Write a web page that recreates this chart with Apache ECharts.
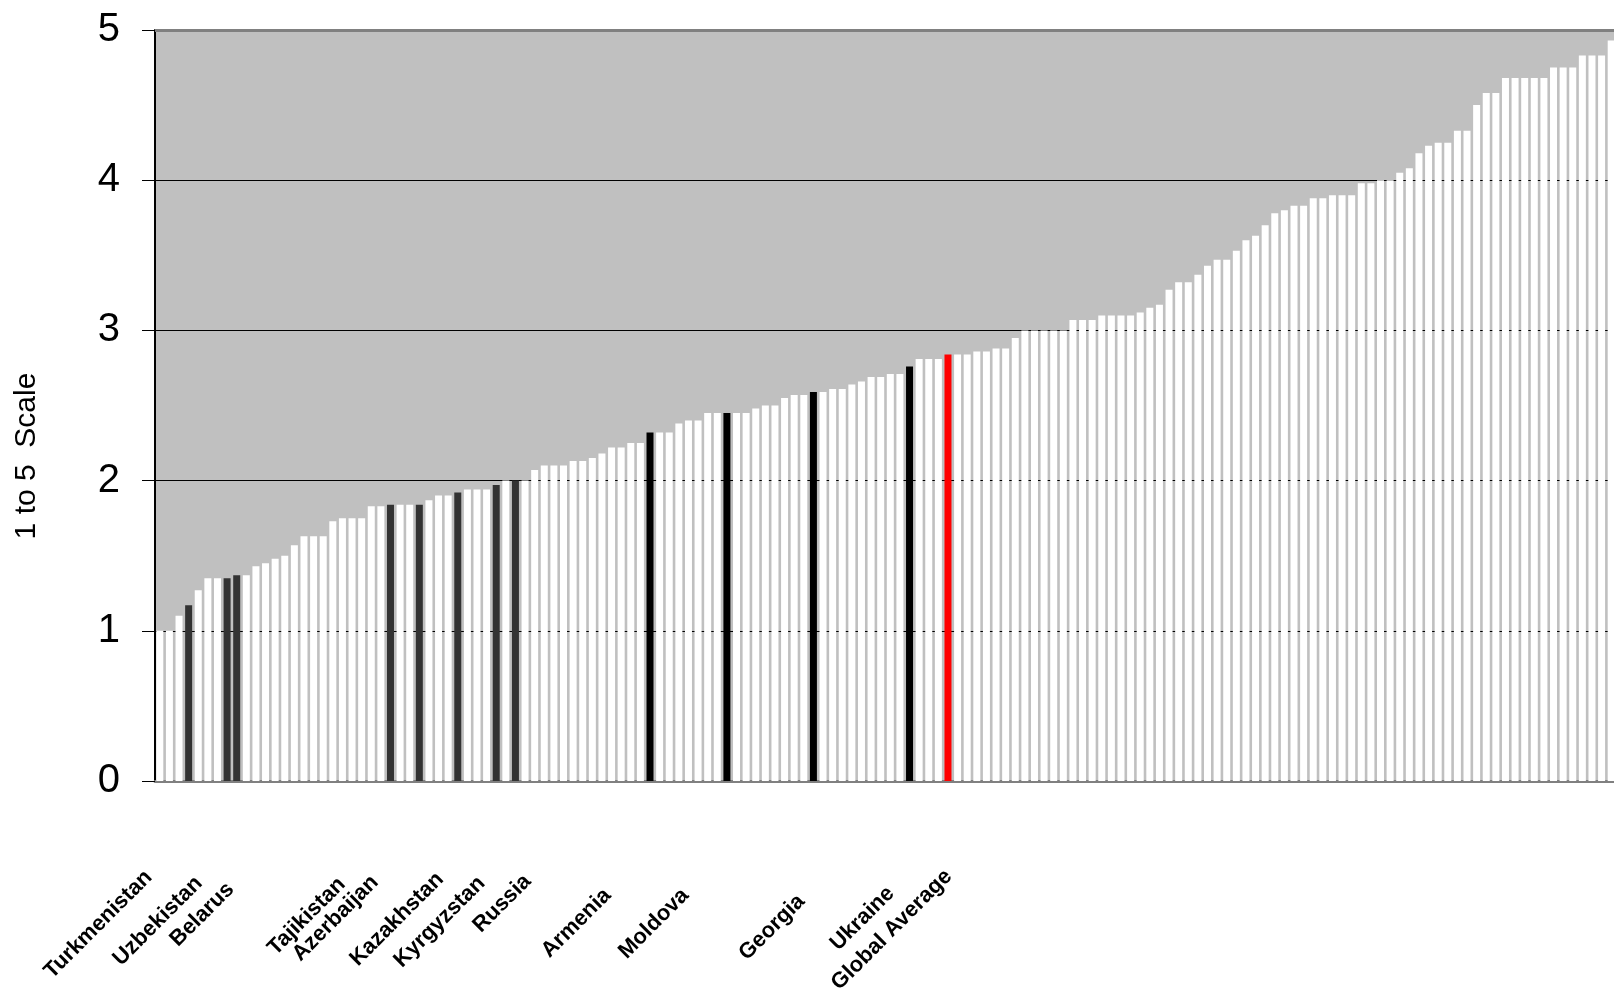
<!DOCTYPE html>
<html>
<head>
<meta charset="utf-8">
<script src="https://cdn.jsdelivr.net/npm/echarts@6/dist/echarts.min.js"></script>
<style>
  html, body { margin: 0; padding: 0; background: #ffffff; }
  #chart { width: 1614px; height: 993px; }
</style>
</head>
<body>
<div id="chart"></div>
<script>
// Scores of all countries, sorted ascending (1 to 5 scale)
const scores = [
  1.00, 1.00, 1.10, 1.17, 1.27, 1.35, 1.35, 1.35, 1.37, 1.37, 1.43, 1.45, 1.48, 1.50, 1.57, 1.63, 1.63, 1.63, 1.73, 1.75, 1.75, 1.75, 1.83,
  1.83, 1.84, 1.84, 1.84, 1.84, 1.87, 1.90, 1.90, 1.92, 1.94, 1.94, 1.94, 1.97, 2.00, 2.00, 2.00, 2.07, 2.10, 2.10, 2.10, 2.13,
  2.13, 2.15, 2.18, 2.22, 2.22, 2.25, 2.25, 2.32, 2.32, 2.32, 2.38, 2.40, 2.40, 2.45, 2.45, 2.45, 2.45, 2.45, 2.48, 2.50, 2.50, 2.55,
  2.57, 2.57, 2.59, 2.59, 2.61, 2.61, 2.64, 2.66, 2.69, 2.69, 2.71, 2.71, 2.76, 2.81, 2.81, 2.81, 2.84, 2.84, 2.84, 2.86, 2.86, 2.88,
  2.88, 2.95, 3.00, 3.00, 3.00, 3.00, 3.00, 3.07, 3.07, 3.07, 3.10, 3.10, 3.10, 3.10, 3.12, 3.15, 3.17, 3.27, 3.32, 3.32, 3.37, 3.43,
  3.47, 3.47, 3.53, 3.60, 3.63, 3.70, 3.78, 3.80, 3.83, 3.83, 3.88, 3.88, 3.90, 3.90, 3.90, 3.98, 3.98, 4.00, 4.00, 4.05, 4.08,
  4.18, 4.23, 4.25, 4.25, 4.33, 4.33, 4.50, 4.58, 4.58, 4.68, 4.68, 4.68, 4.68, 4.68, 4.75, 4.75, 4.75, 4.83, 4.83, 4.83, 4.93
];

// Category labels shown under the axis and the bar they sit under
const labelNames = ['Turkmenistan', 'Uzbekistan', 'Belarus', 'Tajikistan', 'Azerbaijan', 'Kazakhstan',
                    'Kyrgyzstan', 'Russia', 'Armenia', 'Moldova', 'Georgia', 'Ukraine', 'Global Average'];
const labelAt = [0, 5, 8, 20, 23, 30, 34, 39, 47, 55, 68, 77, 83];

// Highlighted bars
const greyBars = [3, 7, 8, 24, 27, 31, 35, 37];
const blackBars = [51, 59, 68, 78];
const redBars = [82];

const yTicks = [0, 1, 2, 3, 4, 5];

// ---- styling ----
const FONT = '"Liberation Sans", Arial, Helvetica, sans-serif';
// small screen-space nudges [dx, dy] (px) of each rotated label, to follow the original's hand placement
const labelNudge = [[-11, -2], [-9, 4], [-6, 10], [-10, 5], [-6, 3], [-8, 0], [-5, 4],
                    [-7, 2], [-4, 16], [-3, 16], [-12, 22], [-9, 14], [-9, -3]];

// label rotated 45deg, right aligned: split a nudge into a shift back along the
// baseline (right padding) and a shift across it (blank line + line height)
function nudgeParts(n) {
  const k = Math.SQRT1_2;
  const along = k * (n[0] - n[1]);   // + forward along baseline
  const perp = k * (n[0] + n[1]);    // + towards the text's bottom
  return { right: Math.max(0, -along), perp: perp };
}

const nameByIndex = {};
const categories = scores.map(() => '');
labelNames.forEach((n, i) => {
  const p = nudgeParts(labelNudge[i]);
  nameByIndex[labelAt[i]] = { name: n, perp: p.perp };
  categories[labelAt[i]] = {
    value: n,
    textStyle: { padding: [0, p.right, 0, 0], lineHeight: Math.max(1, Math.abs(2 * p.perp)) }
  };
});

function labelFormatter(value, index) {
  const e = nameByIndex[index];
  if (!e) return '';
  if (e.perp > 0.5) return '\n' + e.name;
  if (e.perp < -0.5) return e.name + '\n';
  return e.name;
}

function barColor(i) {
  if (redBars.includes(i)) return '#FF0000';
  if (blackBars.includes(i)) return '#000000';
  if (greyBars.includes(i)) return '#333333';
  return '#FFFFFF';
}

const data = scores.map((v, i) => ({ value: v, itemStyle: { color: barColor(i) } }));

const chart = echarts.init(document.getElementById('chart'), null, { renderer: 'canvas' });
chart.setOption({
  animation: false,
  backgroundColor: '#FFFFFF',
  grid: {
    left: 155, top: 30, width: 1461, bottom: 212,
    show: true, backgroundColor: '#C0C0C0', borderWidth: 0,
    outerBoundsMode: 'none', containLabel: false
  },
  xAxis: {
    type: 'category',
    data: categories,
    axisLine: { show: true, lineStyle: { color: '#808080', width: 3 } },
    axisTick: { show: false },
    splitLine: { show: false },
    axisLabel: {
      interval: 0, rotate: 45, margin: 95,
      fontFamily: FONT, fontSize: 22, fontWeight: 'bold', color: '#000',
      formatter: labelFormatter
    }
  },
  yAxis: {
    type: 'value',
    min: yTicks[0], max: yTicks[yTicks.length - 1], interval: 1,
    axisLine: { show: true, lineStyle: { color: '#000', width: 2 } },
    axisTick: { show: true, length: 13, lineStyle: { color: '#000', width: 1 } },
    axisLabel: { margin: 35, fontFamily: FONT, fontSize: 40, color: '#000' },
    splitLine: { show: true, lineStyle: { color: '#000', width: 1 } }
  },
  graphic: [{
    type: 'text',
    x: 27, y: 456, rotation: Math.PI / 2,
    style: {
      text: '1 to 5  Scale', fill: '#000', font: '30px ' + FONT,
      textAlign: 'center', textVerticalAlign: 'middle'
    }
  }],
  series: [{
    type: 'bar',
    data: data,
    barWidth: 7,
    markLine: {
      silent: true, symbol: 'none', label: { show: false },
      lineStyle: { color: '#808080', width: 3, type: 'solid' },
      data: [{ yAxis: yTicks[yTicks.length - 1] }]
    }
  }]
});
</script>
</body>
</html>
